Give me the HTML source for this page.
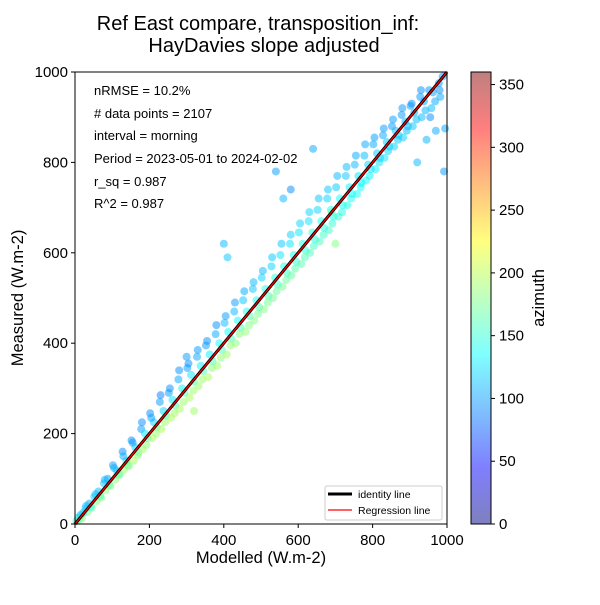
<!DOCTYPE html>
<html><head><meta charset="utf-8"><style>
body{margin:0;background:#fff}
text{font-family:"Liberation Sans",sans-serif;fill:#000}
</style></head><body>
<svg id="svg" width="600" height="600" xmlns="http://www.w3.org/2000/svg">
<defs><linearGradient id="jetg" x1="0" y1="1" x2="0" y2="0"></linearGradient></defs>
<text x="258" y="30" font-size="20" text-anchor="middle">Ref East compare, transposition_inf:</text>
<text x="264" y="52" font-size="20" text-anchor="middle">HayDavies slope adjusted</text>
<g id="points"></g>
<g id="lines"></g>
<rect x="75" y="72" width="372" height="452" fill="none" stroke="#000" stroke-width="1"/>
<g id="axes"></g>
<g font-size="13">
<text x="94" y="95">nRMSE = 10.2%</text>
<text x="94" y="118"># data points = 2107</text>
<text x="94" y="140">interval = morning</text>
<text x="94" y="163">Period = 2023-05-01 to 2024-02-02</text>
<text x="94" y="186">r_sq = 0.987</text>
<text x="94" y="208">R^2 = 0.987</text>
</g>
<g>
<rect x="325" y="486" width="117" height="34" fill="#fff" fill-opacity="0.8" stroke="#ccc" rx="2"/>
<line x1="328" y1="494" x2="352" y2="494" stroke="#000" stroke-width="3"/>
<text x="358" y="498" font-size="10.5">identity line</text>
<line x1="328" y1="510" x2="352" y2="510" stroke="#f00" stroke-width="1.2"/>
<text x="358" y="514" font-size="10.5">Regression line</text>
</g>
<text x="261" y="563" font-size="16.5" text-anchor="middle">Modelled (W.m-2)</text>
<text transform="translate(23,298) rotate(-90)" font-size="16.5" text-anchor="middle">Measured (W.m-2)</text>
<g id="cbar"></g>
<text transform="translate(544,298) rotate(-90)" font-size="16.5" text-anchor="middle">azimuth</text>
</svg>
<script>
const modelledRows=[[4,8,12,15,18,22],[28,33,38,42,30,45],[52,58,63,68,55,70],[78,82,88,92,80,95],[102,108,112,118,105,120],[128,132,138,142,130,145],[152,158,162,168,155,170],[178,182,188,192,180,195],[202,208,212,218,205,220],[228,232,238,242,230,245],[252,258,262,268,255,270],[278,282,288,292,280,295],[302,308,312,318,305,320],[328,332,338,342,330,345],[352,358,362,368,355,370],[378,382,388,392,380,395],[402,408,412,418,405,420],[428,432,438,442,430,445],[452,458,462,468,455,470],[478,482,488,492,480,495],[502,508,512,518,505,520],[528,532,538,542,530,545],[552,558,562,568,555,570],[578,582,588,592,580,595],[602,608,612,618,605,620],[628,632,638,642,630,645],[652,658,662,668,655,670],[678,682,688,692,680,695],[702,708,712,718,705,720],[728,732,738,742,730,745],[752,758,762,768,755,770],[778,782,788,792,780,795],[802,808,812,818,805,820],[828,832,838,842,830,845],[852,858,862,868,855,870],[878,882,888,892,880,895],[902,908,912,918,905,920],[928,932,938,942,930,945],[952,958,962,968,955,970],[978,982,988,992,980,995]];
const measuredRows=[[6,14,10,20,12,25],[34,26,45,38,40,36],[60,50,72,62,66,58],[90,74,100,86,98,84],[130,98,118,108,124,110],[160,120,140,130,150,128],[185,140,170,152,180,158],[210,165,200,175,225,190],[245,190,225,200,235,215],[270,210,250,225,285,240],[290,235,275,245,300,262],[320,255,300,270,340,290],[345,280,330,295,355,315],[370,305,350,320,385,338],[395,325,375,345,405,360],[420,350,400,368,440,385],[445,375,425,395,460,410],[470,400,450,420,490,435],[495,425,470,440,515,460],[520,450,495,465,535,480],[545,475,520,490,560,505],[570,500,545,515,590,530],[595,525,570,540,620,555],[620,550,595,565,640,580],[645,575,620,590,665,605],[670,600,645,615,690,630],[695,625,670,640,720,655],[720,650,695,665,740,680],[745,680,720,690,770,705],[770,705,745,720,790,730],[795,730,770,745,815,755],[815,760,795,770,840,785],[840,785,820,800,855,810],[860,810,845,825,875,835],[880,835,870,850,895,860],[905,855,890,870,920,880],[925,880,910,895,930,800],[945,900,935,915,960,850],[960,920,955,935,900,870],[975,945,990,780,960,875]];
const azimuthRows=[[150,120,170,110,180,115],[115,175,105,140,110,165],[120,180,110,150,112,178],[115,185,100,160,108,180],[100,185,120,175,105,170],[95,190,130,180,105,178],[95,195,120,185,100,175],[100,190,125,185,95,160],[95,195,120,190,100,165],[100,195,120,190,90,160],[100,195,125,190,95,160],[105,195,130,190,95,165],[100,195,125,190,95,160],[105,190,130,190,100,160],[100,195,130,185,95,160],[105,190,135,185,95,160],[110,190,135,185,100,160],[110,185,135,180,100,160],[115,185,140,180,105,160],[115,180,140,175,110,160],[120,180,145,175,110,160],[120,175,145,170,115,155],[125,175,145,170,115,155],[125,170,145,165,120,150],[125,165,145,160,120,150],[125,160,145,155,120,145],[120,160,140,155,115,145],[120,155,140,150,115,140],[115,150,135,145,110,140],[115,145,130,140,110,135],[110,140,125,135,105,130],[110,135,120,130,105,125],[105,130,115,125,100,120],[105,125,115,120,100,118],[100,120,110,115,100,115],[100,118,108,112,98,110],[100,115,105,110,95,110],[98,112,102,108,95,108],[98,110,100,105,95,105],[96,105,98,100,95,105]];
const outlierModelled=[540,560,580,640,400,410,700,690,300,320];
const outlierMeasured=[780,720,740,830,620,590,620,690,370,250];
const outlierAzimuth=[100,110,95,105,110,115,180,170,100,190];
const xTicks=[0,200,400,600,800,1000];
const cTicks=[0,50,100,150,200,250,300,350];

const X0=75,X1=447,Y0=524,Y1=72;
const sx=v=>X0+(X1-X0)*v/1000, sy=v=>Y0-(Y0-Y1)*v/1000;
const CB0=524,CB1=72, cy=v=>CB0-(CB0-CB1)*v/360;
function jet(t){const r=Math.min(Math.max(Math.min(4*t-1.5,-4*t+4.5),0),1),g=Math.min(Math.max(Math.min(4*t-0.5,-4*t+3.5),0),1),b=Math.min(Math.max(Math.min(4*t+0.5,-4*t+2.5),0),1);return `rgb(${Math.round(r*255)},${Math.round(g*255)},${Math.round(b*255)})`;}
const NS='http://www.w3.org/2000/svg';
const pts=document.getElementById('points');
function dot(x,y,a){const c=document.createElementNS(NS,'circle');c.setAttribute('cx',sx(x));c.setAttribute('cy',sy(y));c.setAttribute('r',4);c.setAttribute('fill',jet(a/360));c.setAttribute('fill-opacity',0.5);


pts.appendChild(c);}
modelledRows.forEach((row,i)=>row.forEach((x,j)=>dot(x,measuredRows[i][j],azimuthRows[i][j])));
outlierModelled.forEach((x,i)=>dot(x,outlierMeasured[i],outlierAzimuth[i]));
const ln=document.getElementById('lines');
function line(x1,y1,x2,y2,c,w,n){const l=document.createElementNS(NS,'line');l.setAttribute('x1',x1);l.setAttribute('y1',y1);l.setAttribute('x2',x2);l.setAttribute('y2',y2);l.setAttribute('stroke',c);l.setAttribute('stroke-width',w);


return l;}
ln.appendChild(line(sx(0),sy(0),sx(1000),sy(1000),'#000',3,'identity-line'));
ln.appendChild(line(sx(0),sy(0),sx(1000),sy(1000),'#f00',1.3,'regression-line'));
const ax=document.getElementById('axes');
function txt(x,y,s,anchor,n){const t=document.createElementNS(NS,'text');t.setAttribute('x',x);t.setAttribute('y',y);t.setAttribute('font-size',15);t.setAttribute('text-anchor',anchor);t.textContent=s;


return t;}
xTicks.forEach(v=>{ax.appendChild(line(sx(v),Y0,sx(v),Y0+4,'#000',1,'x-tick'));ax.appendChild(txt(sx(v),Y0+21,v,'middle','x-tick-label'));
ax.appendChild(line(X0-4,sy(v),X0,sy(v),'#000',1,'y-tick'));ax.appendChild(txt(X0-7,sy(v)+5,v,'end','y-tick-label'));});
const g=document.getElementById('jetg');
for(let k=0;k<=16;k++){const s=document.createElementNS(NS,'stop');s.setAttribute('offset',k/16);s.setAttribute('stop-color',jet(k/16));g.appendChild(s);}
const cb=document.getElementById('cbar');
const gr=document.createElementNS(NS,'rect');gr.setAttribute('x',471);gr.setAttribute('y',72);gr.setAttribute('width',20);gr.setAttribute('height',452);gr.setAttribute('fill','url(#jetg)');gr.setAttribute('fill-opacity',0.5);gr.setAttribute('stroke','#000');


cb.appendChild(gr);
cTicks.forEach(v=>{cb.appendChild(line(491,cy(v),495,cy(v),'#000',1,'colorbar-tick'));cb.appendChild(txt(499,cy(v)+5,v,'start','colorbar-tick-label'));});
</script>
</body></html>
